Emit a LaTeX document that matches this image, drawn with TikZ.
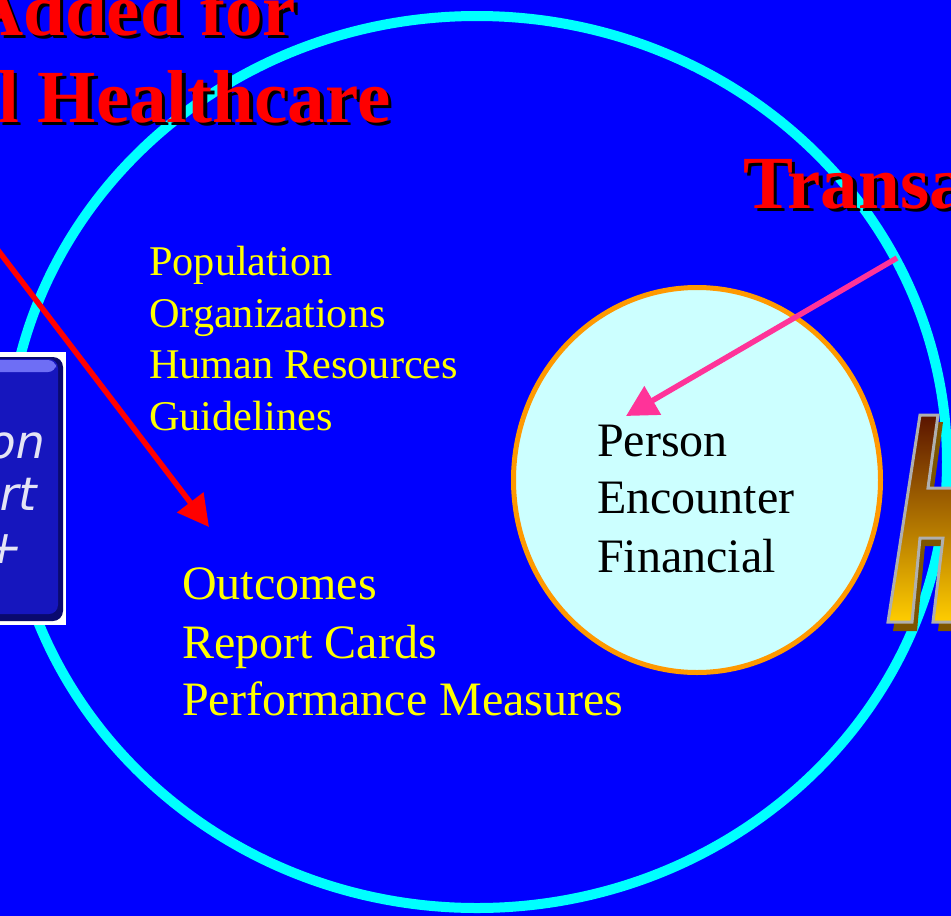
\documentclass[tikz,border=0pt]{standalone}
\usepackage{fontspec}
\setmainfont{Liberation Serif}
\newfontfamily\boxfont[FakeSlant=0.2]{DejaVu Sans}
\usetikzlibrary{arrows.meta}
\definecolor{bgblue}{RGB}{0,0,255}
\definecolor{ringcyan}{RGB}{0,255,255}
\definecolor{innerfill}{RGB}{204,255,255}
\definecolor{innerring}{RGB}{255,153,0}
\definecolor{pinkarrow}{RGB}{255,51,153}
\definecolor{ytext}{RGB}{255,255,0}
\definecolor{boxblue}{RGB}{22,22,190}
\definecolor{boxdark}{RGB}{10,10,110}
\definecolor{boxhigh}{RGB}{110,110,245}
\definecolor{boxwhite}{RGB}{228,228,245}
\definecolor{hdark}{RGB}{90,20,0}
\definecolor{hmid}{RGB}{185,130,0}
\definecolor{hlight}{RGB}{255,205,0}
\definecolor{hshadow}{RGB}{125,85,0}
\definecolor{hedge}{RGB}{175,175,175}
\begin{document}
\begin{tikzpicture}[x=1pt,y=-1pt,
  titletext/.style={font=\fontsize{75}{89}\bfseries\selectfont, text=red, inner sep=0, anchor=base west},
  titleshadow/.style={font=\fontsize{75}{89}\bfseries\selectfont, text=black, inner sep=0, anchor=base west},
  ylist/.style={font=\fontsize{42.3}{50}\selectfont, text=ytext, inner sep=0, anchor=base west},
  ylistb/.style={font=\fontsize{48}{58}\selectfont, text=ytext, inner sep=0, anchor=base west},
  blist/.style={font=\fontsize{48}{58}\selectfont, text=black, inner sep=0, anchor=base west},
  boxtext/.style={font=\boxfont\fontsize{46}{52}\selectfont, text=boxwhite, inner sep=0, anchor=base east},
  arrowline/.style={line width=5.5pt, -{Triangle[length=31pt,width=32pt]}},
]
\useasboundingbox (0,0) rectangle (951,916);
\clip (0,0) rectangle (951,916);
\fill[bgblue] (0,0) rectangle (951,916);

% big cyan ring
\draw[ringcyan, line width=10pt] (477,462) ellipse [x radius=470, y radius=446];

% inner circle
\draw[innerring, fill=innerfill, line width=5pt] (697,480) ellipse [x radius=183.5, y radius=192.5];

% titles
\node[titleshadow] (t1s) at (-27.5,38.5) {Added for};
\node[titletext] (t1) at (-31,35) {Added for};
\node[titleshadow] (t2s) at (1.5,125.5) {l Healthcare};
\node[titletext] (t2) at (-2,122) {l Healthcare};
\node[titleshadow] (t3s) at (746.5,211.5) {Transa};
\node[titletext] (t3) at (743,208) {Transa};

% yellow lists
\node[ylist] (p1) at (149,275) {Population};
\node[ylist] (p2) at (149,327) {Organizations};
\node[ylist] (p3) at (149,378) {Human Resources};
\node[ylist] (p4) at (149,430) {Guidelines};

\node[ylistb] (o1) at (182,599) {Outcomes};
\node[ylistb] (o2) at (182,658) {Report Cards};
\node[ylistb] (o3) at (182,715) {Performance Measures};

% inner circle text
\node[blist] (c1) at (597,456) {Person};
\node[blist] (c2) at (597,513) {Encounter};
\node[blist] (c3) at (597,572) {Financial};

% arrows
\coordinate (redstart) at (-6,245);
\coordinate (redtip) at (209,527);
\draw[red, arrowline] (redstart) -- (redtip);
\coordinate (pinkstart) at (897,258);
\coordinate (pinktip) at (626,416);
\draw[pinkarrow, arrowline] (pinkstart) -- (pinktip);

% left box image
\fill[white] (-5,352) rectangle (66,625);
\fill[boxdark, rounded corners=10pt] (-40,357) rectangle (63,621);
\fill[boxblue, rounded corners=9pt] (-40,359) rectangle (58,614);
\fill[boxhigh, rounded corners=8pt] (-40,360) rectangle (56,372);
\node[boxtext] (b1) at (43,458) {on};
\node[boxtext] (b2) at (35,510) {rt};
\node[boxtext] (b3) at (20,563) {+};

% H graphic
\fill[hshadow] (925,422) -- (943,422) -- (933,495) -- (956,495) -- (956,631) -- (938,631) -- (948,546) -- (925,546) -- (917,631) -- (893,631) -- cycle;
\path[draw=hedge, line width=3pt, top color=hdark, middle color=hmid, bottom color=hlight]
  (920,415) -- (938,415) -- (928,488) -- (956,488) -- (956,622) -- (933,622) -- (943,538) -- (920,538) -- (912,622) -- (888,622) -- cycle;
\end{tikzpicture}
\end{document}
